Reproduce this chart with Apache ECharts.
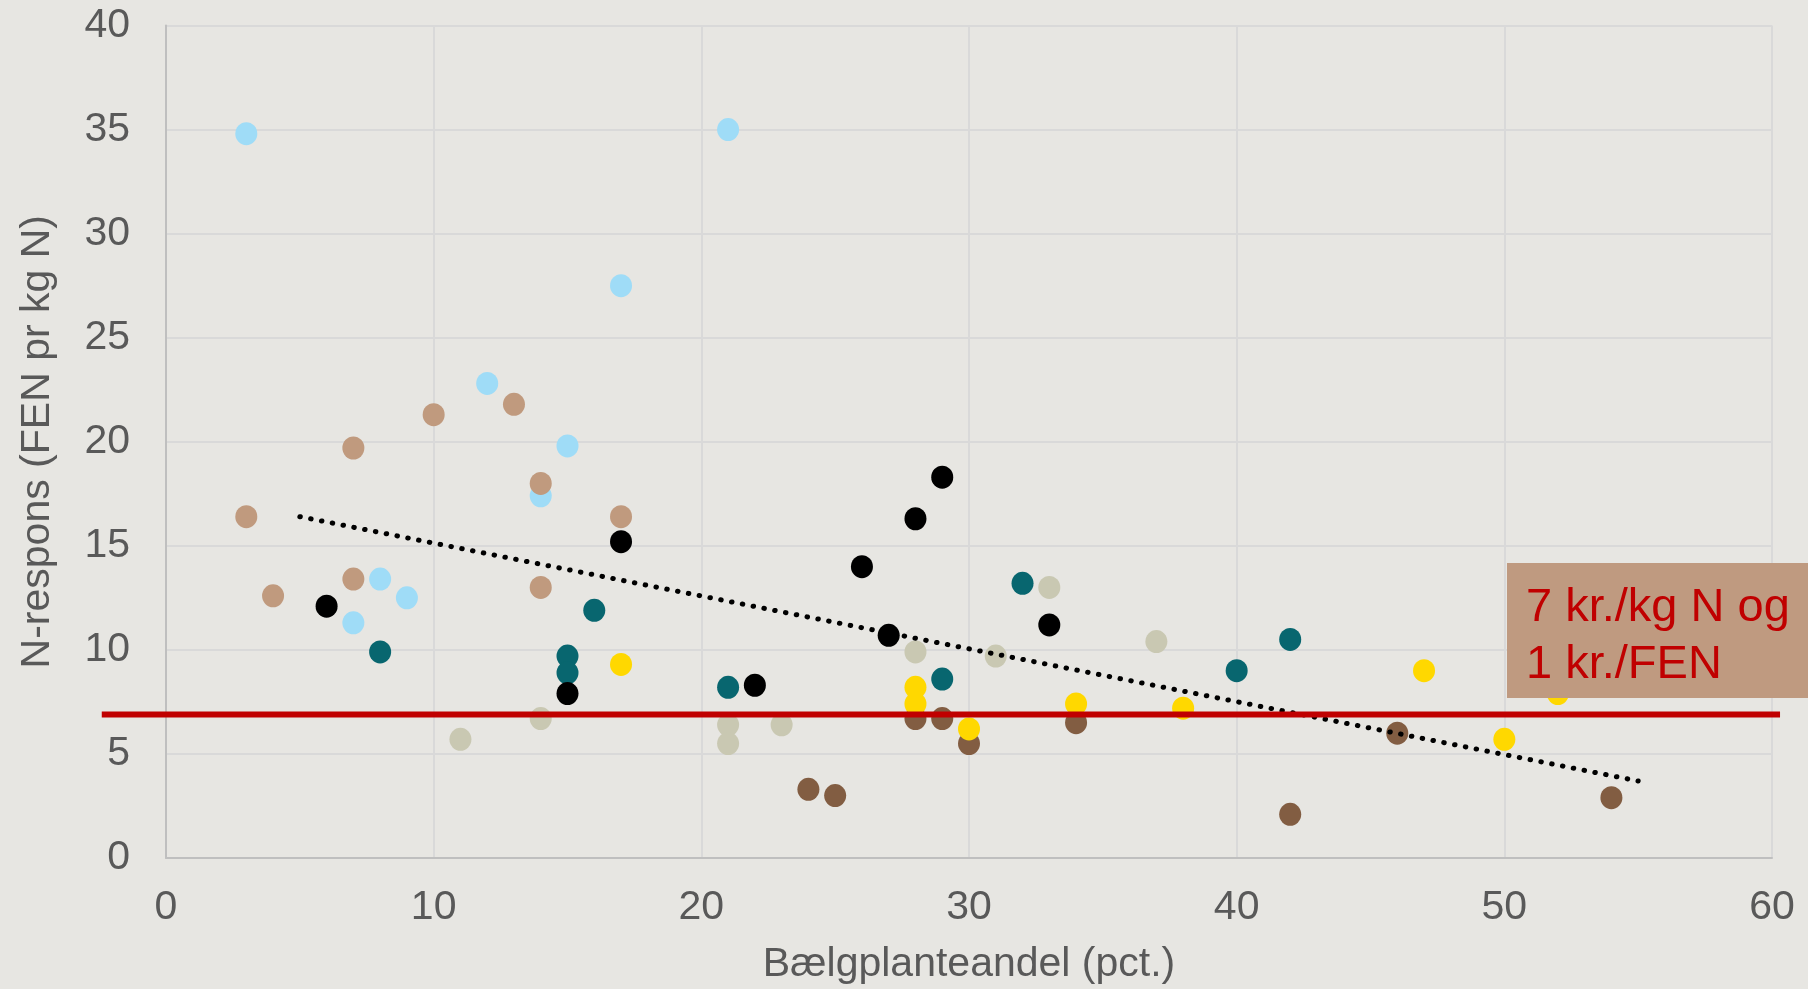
<!DOCTYPE html>
<html>
<head>
<meta charset="utf-8">
<script src="https://cdn.jsdelivr.net/npm/echarts@6/dist/echarts.min.js"></script>
<style>
html,body{margin:0;padding:0;background:#ffffff;}
#chart{width:1808px;height:989px;background:#E7E6E2;}
</style>
</head>
<body>
<div id="chart"></div>
<script>
// Data: [Bælgplanteandel (pct.), N-respons]
const lightBlue = [[3,34.8],[21,35.0],[17,27.5],[12,22.8],[15,19.8],[14,17.4],[8,13.4],[9,12.5],[7,11.3]];
const tan = [[3,16.4],[4,12.6],[7,19.7],[7,13.4],[10,21.3],[13,21.8],[14,18.0],[14,13.0],[17,16.4]];
const black = [[6,12.1],[15,7.9],[17,15.2],[22,8.3],[26,14.0],[27,10.7],[28,16.3],[29,18.3],[33,11.2]];
const teal = [[8,9.9],[15,9.7],[15,8.9],[16,11.9],[21,8.2],[29,8.6],[32,13.2],[40,9.0],[42,10.5]];
const beige = [[11,5.7],[14,6.7],[21,6.4],[21,5.5],[23,6.4],[28,9.9],[31,9.7],[33,13.0],[37,10.4]];
const yellow = [[17,9.3],[28,8.2],[28,7.4],[30,6.2],[34,7.4],[38,7.2],[47,9.0],[50,5.7],[52,7.9]];
const brown = [[24,3.3],[25,3.0],[28,6.7],[29,6.7],[30,5.5],[34,6.5],[42,2.1],[46,6.0],[54,2.9]];
const trendLine = [[5,16.4],[55,3.7]];
const thresholdLine = [[-2.4,6.9],[60.3,6.9]];
const annotation = ['7 kr./kg N og', '1 kr./FEN'];
const xTicks = [0,10,20,30,40,50,60];
const yTicks = [0,5,10,15,20,25,30,35,40];

const chart = echarts.init(document.getElementById('chart'));
const sc = (data, color, z) => ({
  type:'scatter', data, symbol:'circle', symbolSize:[22,23],
  itemStyle:{color, opacity:1}, z: z||2, silent:true
});
const txt = {color:'#595959', fontFamily:'Liberation Sans, Arial, sans-serif', fontSize:41};
chart.setOption({
  backgroundColor:'#E7E6E2',
  animation:false,
  grid:{left:166, right:36, top:25.5, bottom:131, outerBoundsMode:'none', containLabel:false},
  xAxis:{
    type:'value', min:0, max:60, interval:10,
    axisLine:{show:true, lineStyle:{color:'#BFBFBF', width:2}},
    axisTick:{show:false},
    splitLine:{show:true, lineStyle:{color:'#D9D9D9', width:2}},
    axisLabel:Object.assign({margin:29}, txt),
    name:'Bælgplanteandel (pct.)', nameLocation:'middle', nameGap:86,
    nameTextStyle:txt
  },
  yAxis:{
    type:'value', min:0, max:40, interval:5,
    axisLine:{show:true, lineStyle:{color:'#BFBFBF', width:2}},
    axisTick:{show:false},
    splitLine:{show:true, lineStyle:{color:'#D9D9D9', width:2}},
    axisLabel:Object.assign({margin:36}, txt),
    name:'N-respons (FEN pr kg N)', nameLocation:'middle', nameGap:108, nameRotate:90,
    nameTextStyle:txt
  },
  series:[
    sc(lightBlue,'#9FDCF7'),
    sc(tan,'#C09A7E'),
    sc(beige,'#C9C8B2'),
    sc(teal,'#08666F'),
    sc(brown,'#825D42'),
    sc(yellow,'#FFD800'),
    sc(black,'#000000'),
    {type:'line', data:trendLine, symbol:'none', silent:true, z:5,
     lineStyle:{color:'#000000', width:5, type:[0.5,10.5], cap:'round'}}
  ]
});
// Threshold line extends beyond the plot area; positioned through the chart's own scales.
const p1 = chart.convertToPixel({gridIndex:0}, thresholdLine[0]);
const p2 = chart.convertToPixel({gridIndex:0}, thresholdLine[1]);
const boxTL = chart.convertToPixel({gridIndex:0}, [50.1, 9.6]);
chart.setOption({
  graphic:[
    {type:'line', z:50, silent:true,
     shape:{x1:p1[0], y1:p1[1], x2:p2[0], y2:p2[1]},
     style:{stroke:'#C00000', lineWidth:6}},
    {type:'rect', left:1507, top:563, z:100, silent:true,
     shape:{width:301,height:135}, style:{fill:'#BF9A80', stroke:null}},
    {type:'text', left:1526, top:580, z:101, silent:true,
     style:{text:annotation.join('\n'), fill:'#C00000',
       font:'47px "Liberation Sans", Arial, sans-serif', lineHeight:57}}
  ]
});
</script>
</body>
</html>
